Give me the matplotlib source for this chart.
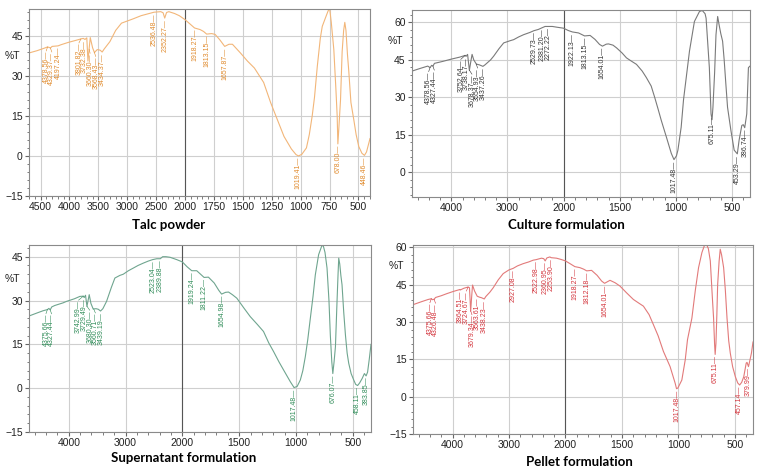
import numpy as np
import matplotlib.pyplot as plt
from matplotlib.ticker import FixedLocator

plt.rcParams['font.family'] = ['Liberation Sans', 'DejaVu Sans']

# ---- spectra (wavenumber cm-1, %T) ----
talc_wn = [4690, 4560, 4440, 4378, 4350, 4329, 4300, 4197, 4150, 4020, 3900, 3801, 3760, 3732,
           3700, 3680, 3660, 3640, 3600, 3568, 3520, 3470, 3434, 3400, 3300, 3200, 3100, 3000,
           2900, 2760, 2640, 2536, 2420, 2380, 2352, 2320, 2280, 2180, 2100, 2000, 1960, 1918,
           1870, 1840, 1813, 1770, 1740, 1700, 1657, 1620, 1590, 1520, 1460, 1400, 1320, 1260,
           1210, 1144, 1080, 1040, 1019, 990, 950, 925, 900, 880, 856, 830, 813, 787, 765, 750,
           735, 713, 695, 684, 678, 670, 655, 641, 628, 618, 608, 595, 584, 565, 540, 520, 497,
           470, 448, 430, 415, 400]
talc_t = [38.6, 39.4, 40.3, 40.8, 40.6, 40.4, 41.0, 41.2, 41.6, 42.5, 43.2, 43.8, 44.0, 43.6,
          44.2, 35.5, 40.0, 44.3, 40.5, 38.7, 39.8, 39.6, 38.9, 40.0, 42.8, 47.0, 49.7, 50.5,
          51.3, 52.5, 53.2, 53.8, 54.0, 53.6, 51.6, 53.7, 54.0, 53.3, 52.5, 51.0, 49.5, 47.9,
          47.3, 46.6, 45.6, 45.8, 45.5, 43.5, 41.0, 41.8, 41.8, 38.5, 35.5, 32.9, 27.5, 20.0,
          14.5, 7.3, 2.6, 0.5, 0.0, 0.6, 3.0, 8.0, 15.0, 22.0, 33.5, 44.0, 48.5, 51.5, 54.0, 55.5,
          50.0, 39.8, 25.0, 15.0, 4.5, 10.0, 21.0, 39.0, 47.0, 50.0, 47.0, 38.0, 32.0, 20.0, 13.5,
          8.0, 3.5, 1.0, 0.2, 1.5, 4.0, 6.5]
talc_peaks = [4378.56, 4329.37, 4197.24, 3801.82, 3732.38, 3660.30, 3568.43, 3434.37, 2536.48,
              2352.27, 1918.27, 1813.15, 1657.87, 1019.41, 678.00, 448.46]

cult_wn = [4700, 4550, 4420, 4378, 4350, 4327, 4300, 4150, 4000, 3850, 3752, 3738, 3710, 3678,
           3655, 3630, 3600, 3554, 3500, 3437, 3400, 3300, 3245, 3150, 3067, 2950, 2890, 2800,
           2712, 2600, 2529, 2450, 2381, 2330, 2272, 2200, 2119, 2000, 1960, 1922, 1867, 1840,
           1813, 1764, 1720, 1680, 1654, 1620, 1600, 1560, 1528, 1480, 1440, 1400, 1351, 1300,
           1263, 1220, 1189, 1160, 1130, 1085, 1041, 1017, 995, 982, 953, 932, 879, 835, 790,
           765, 740, 731, 702, 687, 678, 670, 655, 643, 628, 615, 600, 584, 570, 555, 540, 510,
           481, 453, 437, 413, 400, 387, 369, 354, 340]
cult_t = [40.5, 41.6, 42.5, 41.9, 42.8, 42.5, 43.6, 44.4, 45.3, 46.1, 46.8, 46.4, 47.2, 40.8,
          44.0, 47.2, 45.0, 43.3, 43.0, 42.4, 43.0, 45.0, 46.5, 49.5, 51.8, 52.7, 53.1, 54.2,
          55.1, 56.0, 56.7, 57.2, 57.9, 58.4, 58.4, 58.4, 58.1, 57.7, 56.8, 56.2, 55.8, 55.2,
          54.6, 54.8, 53.2, 51.2, 50.5, 51.3, 51.4, 50.9, 49.8, 47.8, 45.8, 44.6, 43.2, 40.5,
          37.9, 34.5, 30.0, 25.5, 20.7, 14.1, 7.5, 5.0, 6.5, 8.8, 18.0, 29.0, 48.5, 60.4, 64.4,
          64.8, 63.5, 61.7, 41.9, 23.3, 21.0, 26.0, 40.0, 55.0, 62.4, 59.0, 55.5, 52.5, 45.0,
          35.3, 26.0, 16.7, 8.8, 7.3, 12.8, 18.7, 19.0, 17.8, 23.3, 41.9, 42.5]
cult_peaks = [4378.56, 4327.44, 3752.64, 3738.17, 3678.37, 3554.93, 3437.26, 2529.73, 2381.20,
              2272.22, 1922.13, 1813.15, 1654.01, 1017.48, 675.11, 453.29, 386.74]

sup_wn = [4700, 4550, 4452, 4375, 4350, 4327, 4300, 4246, 4100, 4040, 3900, 3805, 3742, 3729,
          3705, 3680, 3660, 3640, 3610, 3570, 3520, 3480, 3441, 3400, 3335, 3250, 3188, 3100,
          3041, 2950, 2864, 2780, 2688, 2600, 2523, 2450, 2389, 2347, 2290, 2218, 2100, 2000,
          1960, 1918, 1874, 1840, 1809, 1771, 1720, 1680, 1655, 1620, 1594, 1560, 1521, 1460,
          1403, 1340, 1286, 1240, 1197, 1150, 1109, 1050, 1017, 990, 962, 940, 918, 897, 874,
          850, 830, 801, 775, 762, 745, 727, 710, 698, 685, 676, 665, 653, 639, 630, 624, 615,
          605, 595, 580, 565, 550, 536, 515, 492, 475, 458, 440, 418, 398, 383, 370, 355, 340]
sup_t = [24.7, 25.8, 26.5, 26.9, 27.3, 26.8, 27.8, 28.3, 29.2, 29.7, 30.6, 31.4, 31.5, 31.0,
         31.8, 28.0, 30.0, 32.0, 29.0, 27.1, 27.2, 27.0, 26.4, 27.2, 29.7, 34.5, 37.7, 38.6,
         39.0, 40.2, 41.1, 42.0, 42.8, 43.5, 44.0, 44.3, 44.3, 45.0, 45.0, 44.8, 44.0, 43.2,
         41.6, 40.2, 40.2, 39.0, 37.9, 38.0, 36.0, 33.5, 32.2, 32.8, 32.9, 32.0, 30.8, 27.5,
         24.5, 21.8, 19.4, 15.5, 12.5, 9.0, 6.2, 2.2, 0.2, 0.6, 2.8, 6.0, 10.8, 16.5, 23.9,
         31.5, 38.8, 45.7, 48.5, 49.0, 46.5, 41.1, 30.0, 18.2, 9.0, 5.0, 9.0, 14.2, 29.7, 39.0,
         44.5, 42.5, 38.5, 35.4, 26.0, 18.2, 12.0, 8.5, 5.0, 2.8, 1.3, 0.9, 1.8, 3.3, 5.0, 4.2,
         5.5, 10.0, 15.0]
sup_peaks = [4375.66, 4327.44, 3742.99, 3729.49, 3680.30, 3560.71, 3439.19, 2523.04, 2389.88,
             1919.24, 1811.22, 1654.98, 1017.48, 676.07, 458.11, 383.85]

pel_wn = [4700, 4550, 4431, 4375, 4355, 4326, 4300, 4200, 4106, 3990, 3870, 3864, 3800, 3724,
          3700, 3679, 3662, 3646, 3610, 3563, 3520, 3487, 3438, 3410, 3340, 3280, 3190, 3103,
          3000, 2927, 2850, 2749, 2650, 2572, 2522, 2425, 2385, 2360, 2330, 2277, 2253, 2159,
          2080, 2000, 1960, 1917, 1873, 1840, 1812, 1769, 1720, 1680, 1654, 1606, 1560, 1518,
          1460, 1399, 1350, 1310, 1260, 1222, 1180, 1133, 1074, 1029, 1017, 1005, 970, 940, 920,
          881, 850, 822, 792, 770, 754, 735, 718, 700, 689, 680, 675, 668, 660, 653, 640, 630,
          618, 600, 585, 570, 555, 541, 520, 496, 475, 458, 440, 422, 400, 393, 380, 368, 354, 340]
pel_t = [37.0, 38.2, 39.1, 39.4, 39.0, 39.2, 39.9, 40.6, 41.4, 42.3, 43.1, 42.9, 43.6, 44.1,
         43.8, 34.4, 40.0, 44.9, 42.5, 40.4, 40.0, 39.8, 39.3, 40.3, 42.0, 43.8, 47.0, 49.5,
         51.0, 51.6, 52.6, 53.5, 54.2, 54.9, 55.1, 55.7, 55.5, 54.6, 55.8, 56.2, 55.9, 55.7,
         55.2, 54.6, 53.5, 52.3, 51.9, 51.3, 50.6, 50.8, 48.8, 46.5, 45.6, 46.8, 45.8, 44.5,
         41.8, 39.1, 37.6, 36.4, 33.0, 29.0, 24.5, 18.2, 12.1, 5.4, 3.2, 3.5, 6.7, 14.8, 22.9,
         31.6, 43.0, 51.9, 58.0, 60.8, 61.5, 59.5, 54.6, 40.0, 31.6, 21.0, 17.0, 21.5, 33.0,
         45.0, 54.5, 59.3, 57.0, 51.9, 43.0, 31.6, 22.5, 17.5, 12.0, 8.0, 5.5, 4.7, 5.8, 8.0,
         13.5, 13.8, 12.1, 14.5, 17.5, 22.0]
pel_peaks = [4375.66, 4326.48, 3864.51, 3724.67, 3679.34, 3563.61, 3438.23, 2927.08, 2522.98,
             2360.95, 2253.90, 1918.27, 1812.18, 1654.01, 1017.48, 675.11, 457.14, 379.99]


# x axis is compressed 2:1 above 2000 cm-1, like the instrument printout
def fwd(w):
    w = np.asarray(w, dtype=float)
    return np.where(w > 2000, 2000 + (w - 2000) / 2, w)


def inv(p):
    p = np.asarray(p, dtype=float)
    return np.where(p > 2000, 2000 + (p - 2000) * 2, p)


W, H = 761, 471
fig = plt.figure(figsize=(W / 100, H / 100), dpi=100)


def box(l, t, r, b):
    return [l / W, 1 - b / H, (r - l) / W, (b - t) / H]


def add_peaks(ax, wn, tr, peaks, color):
    wn = np.asarray(wn, float)
    tr = np.asarray(tr, float)
    peaks = np.asarray(peaks, float)
    yc = np.interp(peaks, wn[::-1], tr[::-1])
    pts = ax.transData.transform(np.column_stack([peaks, yc]))
    order = np.argsort(pts[:, 0])
    xs = pts[order, 0].copy()
    gap = 5.6
    for _ in range(200):
        moved = False
        for i in range(len(xs) - 1):
            d = xs[i + 1] - xs[i]
            if d < gap - 1e-6:
                s = (gap - d) / 2
                xs[i] -= s
                xs[i + 1] += s
                moved = True
        if not moved:
            break
    back = ax.transData.inverted()
    for k, idx in enumerate(order):
        x0, y0 = pts[idx]
        shifted = abs(xs[k] - x0) > 0.8
        lx, ly = back.transform((xs[k], y0 - (4 if shifted else 1)))
        ax.text(lx, ly, f"{peaks[idx]:.2f}\u2014", rotation=90, ha='center', va='top',
                fontsize=5, color=color)
        if shifted:
            ax.plot([peaks[idx], lx], [yc[idx], ly], color=color, lw=0.4)


def panel(pos, wn, tr, peaks, xlim, ylim, yticks, xticks, xminor, ccol, lcol, title, txy):
    ax = fig.add_axes(box(*pos))
    ax.set_xscale('function', functions=(fwd, inv))
    ax.set_xlim(*xlim)
    ax.set_ylim(*ylim)
    ax.xaxis.set_major_locator(FixedLocator(xticks))
    ax.xaxis.set_minor_locator(FixedLocator(xminor))
    ax.set_xticklabels([str(x) for x in xticks])
    ax.yaxis.set_major_locator(FixedLocator(yticks))
    ax.yaxis.set_minor_locator(FixedLocator(np.arange(yticks[0] - 15, ylim[1] + 1, 3)))
    ax.grid(True, which='major', color='#cfcfcf', lw=0.8)
    ax.axvline(2000, color='#555555', lw=0.8, zorder=1.5)
    ax.set_axisbelow(True)
    for s in ax.spines.values():
        s.set_color('#8a8a8a')
        s.set_linewidth(0.8)
    ax.tick_params(which='both', labelsize=7.5, colors='#666666', labelcolor='#222222', pad=1.5)
    ax.tick_params(which='major', length=3)
    ax.tick_params(which='minor', length=1.8)
    ax.plot(wn, tr, color=ccol, lw=0.8)
    ax.text(-0.025, yticks[-1] - 7.5, '%T', transform=ax.get_yaxis_transform(),
            ha='right', va='center', fontsize=7.5, color='#222222')
    add_peaks(ax, wn, tr, peaks, lcol)
    fig.text(txy[0] / W, 1 - txy[1] / H, title, ha='center', va='center', fontsize=9.5,
             fontweight='bold', family=['Lato', 'DejaVu Sans'])
    return ax


talc_xt = [4500, 4000, 3500, 3000, 2500, 2000, 1750, 1500, 1250, 1000, 750, 500]
talc_xm = list(range(4700, 2000, -100)) + list(range(2000, 399, -50))
std_xt = [4000, 3000, 2000, 1500, 1000, 500]
std_xm = list(range(4600, 2000, -200)) + list(range(2000, 339, -100))

panel((29, 9, 370, 196), talc_wn, talc_t, talc_peaks, (4700, 400), (-15, 55),
      [-15, 0, 15, 30, 45], talc_xt, talc_xm, '#f2b679', '#e08a2c', 'Talc powder', (169, 225))
panel((412, 10, 750, 197), cult_wn, cult_t, cult_peaks, (4700, 340), (-10, 65),
      [0, 15, 30, 45, 60], std_xt, std_xm, '#7a7a7a', '#333333', 'Culture formulation', (566, 225))
panel((29, 245, 371, 432), sup_wn, sup_t, sup_peaks, (4700, 340), (-15, 49),
      [-15, 0, 15, 30, 45], std_xt, std_xm, '#6fa58f', '#2e8b57', 'Supernatant formulation', (184, 458))
panel((413, 245, 753, 434), pel_wn, pel_t, pel_peaks, (4700, 340), (-15, 61),
      [-15, 0, 15, 30, 45, 60], std_xt, std_xm, '#e27a7a', '#d3343c', 'Pellet formulation', (579, 462))

fig.savefig('out.png', dpi=100)
